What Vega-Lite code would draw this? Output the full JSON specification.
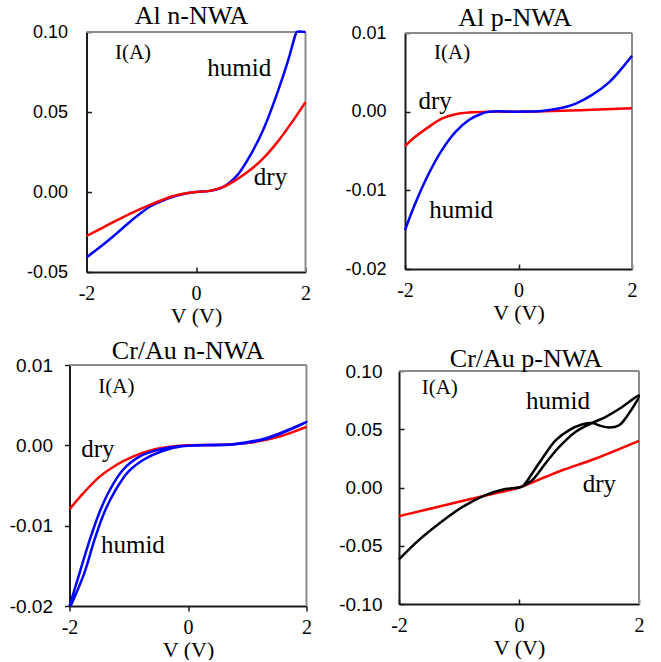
{
  "$schema": "https://vega.github.io/schema/vega-lite/v6.json",
  "padding": {"left": 8.5, "top": 3, "right": 5, "bottom": 0},
  "columns": 2,
  "spacing": {"row": 12, "column": 25.5},
  "datasets": {
    "p1": [
      {"s": "humid", "V": -2, "I": -0.0409}, {"s": "humid", "V": -1.7, "I": -0.033}, {"s": "humid", "V": -1.44, "I": -0.0256},
      {"s": "humid", "V": -1.15, "I": -0.017}, {"s": "humid", "V": -0.83, "I": -0.0089}, {"s": "humid", "V": -0.6, "I": -0.0053},
      {"s": "humid", "V": -0.46, "I": -0.0035}, {"s": "humid", "V": -0.25, "I": -0.0014}, {"s": "humid", "V": 0, "I": 0},
      {"s": "humid", "V": 0.25, "I": 0.0007}, {"s": "humid", "V": 0.5, "I": 0.0032}, {"s": "humid", "V": 0.76, "I": 0.0107},
      {"s": "humid", "V": 1.01, "I": 0.024}, {"s": "humid", "V": 1.25, "I": 0.0407}, {"s": "humid", "V": 1.5, "I": 0.0634},
      {"s": "humid", "V": 1.68, "I": 0.082}, {"s": "humid", "V": 1.82, "I": 0.0986}, {"s": "humid", "V": 1.84, "I": 0.1},
      {"s": "humid", "V": 2, "I": 0.1},
      {"s": "dry", "V": -2, "I": -0.0275}, {"s": "dry", "V": -1.7, "I": -0.0222}, {"s": "dry", "V": -1.44, "I": -0.0176},
      {"s": "dry", "V": -1.15, "I": -0.0127}, {"s": "dry", "V": -0.83, "I": -0.0079}, {"s": "dry", "V": -0.6, "I": -0.0048},
      {"s": "dry", "V": -0.46, "I": -0.003}, {"s": "dry", "V": -0.25, "I": -0.0012}, {"s": "dry", "V": 0, "I": 0},
      {"s": "dry", "V": 0.25, "I": 0.0007}, {"s": "dry", "V": 0.5, "I": 0.0032}, {"s": "dry", "V": 0.75, "I": 0.008},
      {"s": "dry", "V": 1.0, "I": 0.014}, {"s": "dry", "V": 1.25, "I": 0.0218}, {"s": "dry", "V": 1.5, "I": 0.0318},
      {"s": "dry", "V": 1.75, "I": 0.0435}, {"s": "dry", "V": 2, "I": 0.0562}
    ],
    "p2": [
      {"s": "humid", "V": -2, "I": -0.01506}, {"s": "humid", "V": -1.82, "I": -0.01167}, {"s": "humid", "V": -1.58, "I": -0.00786},
      {"s": "humid", "V": -1.35, "I": -0.00489}, {"s": "humid", "V": -1.11, "I": -0.00256}, {"s": "humid", "V": -0.88, "I": -0.00108},
      {"s": "humid", "V": -0.64, "I": -0.00023}, {"s": "humid", "V": -0.52, "I": 0}, {"s": "humid", "V": 0, "I": 0},
      {"s": "humid", "V": 0.41, "I": 0.0001}, {"s": "humid", "V": 0.71, "I": 0.0004}, {"s": "humid", "V": 1.0, "I": 0.001},
      {"s": "humid", "V": 1.29, "I": 0.0021}, {"s": "humid", "V": 1.59, "I": 0.0037}, {"s": "humid", "V": 1.82, "I": 0.0055},
      {"s": "humid", "V": 2, "I": 0.0071},
      {"s": "dry", "V": -2, "I": -0.00439}, {"s": "dry", "V": -1.82, "I": -0.0032}, {"s": "dry", "V": -1.58, "I": -0.00193},
      {"s": "dry", "V": -1.35, "I": -0.00087}, {"s": "dry", "V": -1.11, "I": -0.00032}, {"s": "dry", "V": -0.88, "I": -0.0001},
      {"s": "dry", "V": -0.5, "I": 0}, {"s": "dry", "V": 0, "I": 0}, {"s": "dry", "V": 0.6, "I": 0.0001},
      {"s": "dry", "V": 1.18, "I": 0.0002}, {"s": "dry", "V": 2, "I": 0.00045}
    ],
    "p3": [
      {"s": "dry", "o": 1, "V": -2, "I": -0.00797}, {"s": "dry", "o": 2, "V": -1.77, "I": -0.00598}, {"s": "dry", "o": 3, "V": -1.49, "I": -0.0039},
      {"s": "dry", "o": 4, "V": -1.21, "I": -0.00245}, {"s": "dry", "o": 5, "V": -0.93, "I": -0.00141}, {"s": "dry", "o": 6, "V": -0.65, "I": -0.00067},
      {"s": "dry", "o": 7, "V": -0.36, "I": -0.00025}, {"s": "dry", "o": 8, "V": 0, "I": 0}, {"s": "dry", "o": 9, "V": 0.5, "I": 0.00005},
      {"s": "dry", "o": 10, "V": 1.0, "I": 0.0003}, {"s": "dry", "o": 11, "V": 1.5, "I": 0.001}, {"s": "dry", "o": 12, "V": 2, "I": 0.0023},
      {"s": "humid", "o": 1, "V": -2, "I": -0.02}, {"s": "humid", "o": 2, "V": -1.83, "I": -0.0159}, {"s": "humid", "o": 3, "V": -1.66, "I": -0.0118},
      {"s": "humid", "o": 4, "V": -1.49, "I": -0.00826}, {"s": "humid", "o": 5, "V": -1.32, "I": -0.00556}, {"s": "humid", "o": 6, "V": -1.1, "I": -0.00307},
      {"s": "humid", "o": 7, "V": -0.82, "I": -0.00141}, {"s": "humid", "o": 8, "V": -0.48, "I": -0.0005}, {"s": "humid", "o": 9, "V": -0.15, "I": -0.0001},
      {"s": "humid", "o": 10, "V": 0.3, "I": 0.00005}, {"s": "humid", "o": 11, "V": 0.76, "I": 0.00015}, {"s": "humid", "o": 12, "V": 1.32, "I": 0.0009},
      {"s": "humid", "o": 13, "V": 2, "I": 0.0029}, {"s": "humid", "o": 14, "V": 1.32, "I": 0.0008}, {"s": "humid", "o": 15, "V": 0.76, "I": 0.0001},
      {"s": "humid", "o": 16, "V": 0.3, "I": 0}, {"s": "humid", "o": 17, "V": -0.1, "I": -0.0001}, {"s": "humid", "o": 18, "V": -0.43, "I": -0.0007},
      {"s": "humid", "o": 19, "V": -0.73, "I": -0.0017}, {"s": "humid", "o": 20, "V": -1.01, "I": -0.0033}, {"s": "humid", "o": 21, "V": -1.24, "I": -0.0058},
      {"s": "humid", "o": 22, "V": -1.41, "I": -0.0083}, {"s": "humid", "o": 23, "V": -1.58, "I": -0.0118}, {"s": "humid", "o": 24, "V": -1.75, "I": -0.0159},
      {"s": "humid", "o": 25, "V": -1.98, "I": -0.02}
    ],
    "p4": [
      {"s": "dry", "o": 1, "V": -2, "I": -0.0246}, {"s": "dry", "o": 2, "V": -1, "I": -0.0123}, {"s": "dry", "o": 3, "V": -0.5, "I": -0.0062},
      {"s": "dry", "o": 4, "V": 0, "I": 0}, {"s": "dry", "o": 5, "V": 0.44, "I": 0.0091}, {"s": "dry", "o": 6, "V": 0.72, "I": 0.0148},
      {"s": "dry", "o": 7, "V": 1.28, "I": 0.0249}, {"s": "dry", "o": 8, "V": 2, "I": 0.04},
      {"s": "humid", "o": 1, "V": -2, "I": -0.0617}, {"s": "humid", "o": 2, "V": -1.67, "I": -0.0452}, {"s": "humid", "o": 3, "V": -1.33, "I": -0.0309},
      {"s": "humid", "o": 4, "V": -0.94, "I": -0.0166}, {"s": "humid", "o": 5, "V": -0.56, "I": -0.0066}, {"s": "humid", "o": 6, "V": -0.28, "I": -0.0019},
      {"s": "humid", "o": 7, "V": 0, "I": 0}, {"s": "humid", "o": 8, "V": 0.06, "I": 0.001}, {"s": "humid", "o": 9, "V": 0.33, "I": 0.0206},
      {"s": "humid", "o": 10, "V": 0.61, "I": 0.0405}, {"s": "humid", "o": 11, "V": 0.83, "I": 0.0491}, {"s": "humid", "o": 12, "V": 1.06, "I": 0.0543},
      {"s": "humid", "o": 13, "V": 1.22, "I": 0.0554}, {"s": "humid", "o": 14, "V": 1.33, "I": 0.0534}, {"s": "humid", "o": 15, "V": 1.5, "I": 0.0514},
      {"s": "humid", "o": 16, "V": 1.67, "I": 0.0534}, {"s": "humid", "o": 17, "V": 1.83, "I": 0.0634}, {"s": "humid", "o": 18, "V": 2, "I": 0.079},
      {"s": "humid", "o": 19, "V": 1.72, "I": 0.0691}, {"s": "humid", "o": 20, "V": 1.44, "I": 0.0605}, {"s": "humid", "o": 21, "V": 1.22, "I": 0.0554},
      {"s": "humid", "o": 22, "V": 0.94, "I": 0.0477}, {"s": "humid", "o": 23, "V": 0.67, "I": 0.0348}, {"s": "humid", "o": 24, "V": 0.44, "I": 0.0206},
      {"s": "humid", "o": 25, "V": 0.22, "I": 0.0063}, {"s": "humid", "o": 26, "V": 0.06, "I": 0.001}
    ],
    "labels": [
      {"p": 1, "t": "I(A)", "V": -1.15, "I": 0.0831}, {"p": 1, "t": "humid", "V": 0.79, "I": 0.0723}, {"p": 1, "t": "dry", "V": 1.36, "I": 0.0046},
      {"p": 2, "t": "I(A)", "V": -1.17, "I": 0.00664}, {"p": 2, "t": "dry", "V": -1.47, "I": 0.0004}, {"p": 2, "t": "humid", "V": -1.01, "I": -0.01358},
      {"p": 3, "t": "I(A)", "V": -1.21, "I": 0.00655}, {"p": 3, "t": "dry", "V": -1.52, "I": -0.00142}, {"p": 3, "t": "humid", "V": -0.93, "I": -0.01337},
      {"p": 4, "t": "I(A)", "V": -1.32, "I": 0.0806}, {"p": 4, "t": "humid", "V": 0.65, "I": 0.0677}, {"p": 4, "t": "dry", "V": 1.34, "I": -0.0038}
    ]
  },
  "concat": [
    {
      "title": {"text": "Al n-NWA", "offset": -6, "dx": 4},
      "width": 236, "height": 240,
      "layer": [
        {"data": {"values": [{}]}, "mark": {"type": "rule", "color": "#8c8c8c", "strokeWidth": 2},
         "encoding": {"x": {"datum": -2, "type": "quantitative"}, "x2": {"datum": 2}, "y": {"datum": 0.1, "type": "quantitative"}}},
        {"data": {"values": [{}]}, "mark": {"type": "rule", "color": "#8c8c8c", "strokeWidth": 2},
         "encoding": {"x": {"datum": 2, "type": "quantitative"}, "y": {"datum": -0.05, "type": "quantitative"}, "y2": {"datum": 0.1}}},
        {"data": {"name": "p1"}, "transform": [{"filter": "datum.s === 'humid'"}], "mark": {"type": "line", "color": "#0000ff"},
         "encoding": {
           "x": {"field": "V", "type": "quantitative", "title": "V (V)", "scale": {"domain": [-2, 2], "range": [17, 236], "nice": false, "zero": false},
                 "axis": {"values": [-2, 0, 2], "title": "V (V)", "labelExpr": "datum.value < 0 ? '-' + format(-datum.value, 'd') : format(datum.value, 'd')"}},
           "y": {"field": "I", "type": "quantitative", "title": null, "scale": {"domain": [-0.05, 0.1], "nice": false, "zero": false},
                 "axis": {"values": [-0.05, 0, 0.05, 0.1], "title": null, "offset": -17, "labelExpr": "datum.value < 0 ? '-' + format(-datum.value, '.2f') : format(datum.value, '.2f')"}}
         }},
        {"data": {"name": "p1"}, "transform": [{"filter": "datum.s === 'dry'"}], "mark": {"type": "line", "color": "#ff0000"},
         "encoding": {"x": {"field": "V", "type": "quantitative"}, "y": {"field": "I", "type": "quantitative"}}},
        {"data": {"name": "labels"}, "transform": [{"filter": "datum.p === 1 && datum.t !== 'I(A)'"}], "mark": {"type": "text"},
         "encoding": {"x": {"field": "V", "type": "quantitative"}, "y": {"field": "I", "type": "quantitative"}, "text": {"field": "t"}}},
        {"data": {"name": "labels"}, "transform": [{"filter": "datum.p === 1 && datum.t === 'I(A)'"}], "mark": {"type": "text", "fontSize": 21},
         "encoding": {"x": {"field": "V", "type": "quantitative"}, "y": {"field": "I", "type": "quantitative"}, "text": {"field": "t"}}}
      ]
    },
    {
      "title": {"text": "Al p-NWA", "offset": -7.4, "dx": -1},
      "width": 234, "height": 237,
      "layer": [
        {"data": {"values": [{}]}, "mark": {"type": "rule", "color": "#8c8c8c", "strokeWidth": 2},
         "encoding": {"x": {"datum": -2, "type": "quantitative"}, "x2": {"datum": 2}, "y": {"datum": 0.01, "type": "quantitative"}}},
        {"data": {"values": [{}]}, "mark": {"type": "rule", "color": "#8c8c8c", "strokeWidth": 2},
         "encoding": {"x": {"datum": 2, "type": "quantitative"}, "y": {"datum": -0.02, "type": "quantitative"}, "y2": {"datum": 0.01}}},
        {"data": {"name": "p2"}, "transform": [{"filter": "datum.s === 'dry'"}], "mark": {"type": "line", "color": "#ff0000"},
         "encoding": {
           "x": {"field": "V", "type": "quantitative", "title": "V (V)", "scale": {"domain": [-2, 2], "range": [6, 233], "nice": false, "zero": false},
                 "axis": {"values": [-2, 0, 2], "title": "V (V)", "labelExpr": "datum.value < 0 ? '-' + format(-datum.value, 'd') : format(datum.value, 'd')"}},
           "y": {"field": "I", "type": "quantitative", "title": null, "scale": {"domain": [-0.02, 0.01], "range": [237, 1], "nice": false, "zero": false},
                 "axis": {"values": [-0.02, -0.01, 0, 0.01], "title": null, "offset": -6, "labelExpr": "datum.value < 0 ? '-' + format(-datum.value, '.2f') : format(datum.value, '.2f')"}}
         }},
        {"data": {"name": "p2"}, "transform": [{"filter": "datum.s === 'humid'"}], "mark": {"type": "line", "color": "#0000ff"},
         "encoding": {"x": {"field": "V", "type": "quantitative"}, "y": {"field": "I", "type": "quantitative"}}},
        {"data": {"name": "labels"}, "transform": [{"filter": "datum.p === 2 && datum.t !== 'I(A)'"}], "mark": {"type": "text"},
         "encoding": {"x": {"field": "V", "type": "quantitative"}, "y": {"field": "I", "type": "quantitative"}, "text": {"field": "t"}}},
        {"data": {"name": "labels"}, "transform": [{"filter": "datum.p === 2 && datum.t === 'I(A)'"}], "mark": {"type": "text", "fontSize": 21},
         "encoding": {"x": {"field": "V", "type": "quantitative"}, "y": {"field": "I", "type": "quantitative"}, "text": {"field": "t"}}}
      ]
    },
    {
      "title": {"text": "Cr/Au n-NWA", "offset": -8, "dx": 0},
      "width": 237, "height": 241,
      "layer": [
        {"data": {"values": [{}]}, "mark": {"type": "rule", "color": "#8c8c8c", "strokeWidth": 2},
         "encoding": {"x": {"datum": -2, "type": "quantitative"}, "x2": {"datum": 2}, "y": {"datum": 0.01, "type": "quantitative"}}},
        {"data": {"values": [{}]}, "mark": {"type": "rule", "color": "#8c8c8c", "strokeWidth": 2},
         "encoding": {"x": {"datum": 2, "type": "quantitative"}, "y": {"datum": -0.02, "type": "quantitative"}, "y2": {"datum": 0.01}}},
        {"data": {"name": "p3"}, "transform": [{"filter": "datum.s === 'dry'"}], "mark": {"type": "line", "color": "#ff0000"},
         "encoding": {
           "x": {"field": "V", "type": "quantitative", "title": "V (V)", "scale": {"domain": [-2, 2], "nice": false, "zero": false},
                 "axis": {"values": [-2, 0, 2], "title": "V (V)", "tickSize": 5, "labelPadding": 6, "labelExpr": "datum.value < 0 ? '-' + format(-datum.value, 'd') : format(datum.value, 'd')"}},
           "y": {"field": "I", "type": "quantitative", "title": null, "scale": {"domain": [-0.02, 0.01], "nice": false, "zero": false},
                 "axis": {"values": [-0.02, -0.01, 0, 0.01], "title": null, "tickSize": 5, "labelPadding": 12, "labelFontSize": 19, "labelExpr": "datum.value < 0 ? '-' + format(-datum.value, '.2f') : format(datum.value, '.2f')"}},
           "order": {"field": "o", "type": "quantitative"}
         }},
        {"data": {"name": "p3"}, "transform": [{"filter": "datum.s === 'humid'"}], "mark": {"type": "line", "color": "#0000ff"},
         "encoding": {"x": {"field": "V", "type": "quantitative"}, "y": {"field": "I", "type": "quantitative"}, "order": {"field": "o", "type": "quantitative"}}},
        {"data": {"name": "labels"}, "transform": [{"filter": "datum.p === 3 && datum.t !== 'I(A)'"}], "mark": {"type": "text"},
         "encoding": {"x": {"field": "V", "type": "quantitative"}, "y": {"field": "I", "type": "quantitative"}, "text": {"field": "t"}}},
        {"data": {"name": "labels"}, "transform": [{"filter": "datum.p === 3 && datum.t === 'I(A)'"}], "mark": {"type": "text", "fontSize": 21},
         "encoding": {"x": {"field": "V", "type": "quantitative"}, "y": {"field": "I", "type": "quantitative"}, "text": {"field": "t"}}}
      ]
    },
    {
      "title": {"text": "Cr/Au p-NWA", "offset": -10.3, "dx": 7},
      "width": 240, "height": 239,
      "layer": [
        {"data": {"values": [{}]}, "mark": {"type": "rule", "color": "#8c8c8c", "strokeWidth": 2},
         "encoding": {"x": {"datum": -2, "type": "quantitative"}, "x2": {"datum": 2}, "y": {"datum": 0.1, "type": "quantitative"}}},
        {"data": {"values": [{}]}, "mark": {"type": "rule", "color": "#8c8c8c", "strokeWidth": 2},
         "encoding": {"x": {"datum": 2, "type": "quantitative"}, "y": {"datum": -0.1, "type": "quantitative"}, "y2": {"datum": 0.1}}},
        {"data": {"name": "p4"}, "transform": [{"filter": "datum.s === 'dry'"}], "mark": {"type": "line", "color": "#ff0000"},
         "encoding": {
           "x": {"field": "V", "type": "quantitative", "title": "V (V)", "scale": {"domain": [-2, 2], "nice": false, "zero": false},
                 "axis": {"values": [-2, 0, 2], "title": "V (V)", "labelExpr": "datum.value < 0 ? '-' + format(-datum.value, 'd') : format(datum.value, 'd')"}},
           "y": {"field": "I", "type": "quantitative", "title": null, "scale": {"domain": [-0.1, 0.1], "range": [239, 6], "nice": false, "zero": false},
                 "axis": {"values": [-0.1, -0.05, 0, 0.05, 0.1], "title": null, "labelPadding": 22, "labelFontSize": 19, "labelExpr": "datum.value < 0 ? '-' + format(-datum.value, '.2f') : format(datum.value, '.2f')"}},
           "order": {"field": "o", "type": "quantitative"}
         }},
        {"data": {"name": "p4"}, "transform": [{"filter": "datum.s === 'humid'"}], "mark": {"type": "line", "color": "#000000"},
         "encoding": {"x": {"field": "V", "type": "quantitative"}, "y": {"field": "I", "type": "quantitative"}, "order": {"field": "o", "type": "quantitative"}}},
        {"data": {"name": "labels"}, "transform": [{"filter": "datum.p === 4 && datum.t !== 'I(A)'"}], "mark": {"type": "text"},
         "encoding": {"x": {"field": "V", "type": "quantitative"}, "y": {"field": "I", "type": "quantitative"}, "text": {"field": "t"}}},
        {"data": {"name": "labels"}, "transform": [{"filter": "datum.p === 4 && datum.t === 'I(A)'"}], "mark": {"type": "text", "fontSize": 21},
         "encoding": {"x": {"field": "V", "type": "quantitative"}, "y": {"field": "I", "type": "quantitative"}, "text": {"field": "t"}}}
      ]
    }
  ],
  "config": {
    "view": {"stroke": null},
    "axis": {"domainColor": "#1a1a1a", "domainWidth": 2, "tickColor": "#1a1a1a", "tickWidth": 1.5, "tickSize": -5, "grid": false, "labelColor": "#000000", "titleColor": "#000000"},
    "axisX": {"labelFont": "Liberation Serif", "labelFontSize": 20, "labelPadding": 16, "labelFlush": false, "titleFont": "Liberation Serif", "titleFontSize": 22, "titleFontWeight": "normal", "titlePadding": 2},
    "axisY": {"labelFont": "Liberation Sans", "labelFontSize": 18, "labelPadding": 24},
    "title": {"font": "Liberation Serif", "fontSize": 26, "fontWeight": "normal", "color": "#000000", "anchor": "middle", "frame": "group", "baseline": "alphabetic"},
    "line": {"strokeWidth": 2.5, "interpolate": "catmull-rom"},
    "text": {"font": "Liberation Serif", "fontSize": 25, "baseline": "alphabetic", "align": "center", "color": "#000000"}
  }
}
